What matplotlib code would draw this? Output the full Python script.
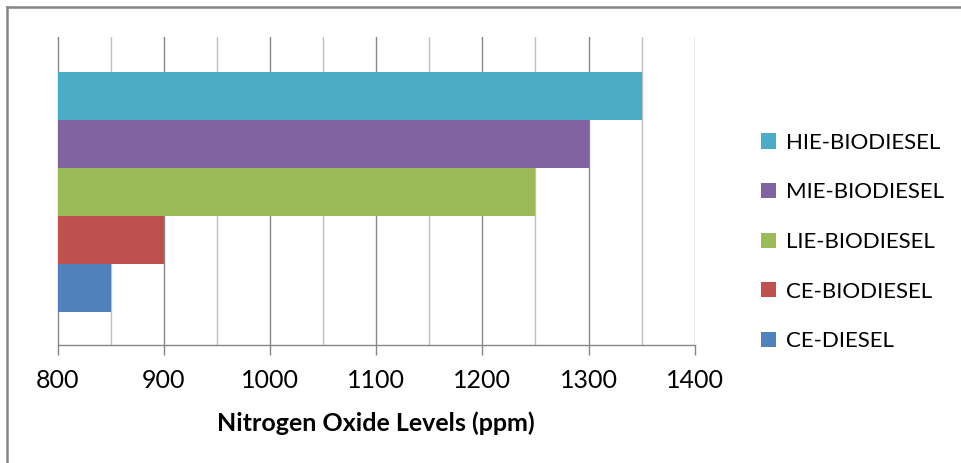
import matplotlib
matplotlib.use("Agg")
import matplotlib.pyplot as plt
from matplotlib.lines import Line2D
from matplotlib.patches import Patch
from matplotlib.ticker import MultipleLocator

# Series (bottom to top on the chart)
series = ["CE-DIESEL", "CE-BIODIESEL", "LIE-BIODIESEL", "MIE-BIODIESEL", "HIE-BIODIESEL"]
nox_ppm = [850, 900, 1250, 1300, 1350]
colors = ["#4F81BD", "#C0504D", "#9BBB59", "#8064A2", "#4BACC6"]
x_ticks = [800, 900, 1000, 1100, 1200, 1300, 1400]
x_label = "Nitrogen Oxide Levels (ppm)"

plt.rcParams["font.family"] = ["Lato", "DejaVu Sans"]

W, H = 962, 463
fig = plt.figure(figsize=(W / 100, H / 100), dpi=100)

# plot area in pixel terms
left_px, right_px, top_px, bottom_px = 57.5, 694.7, 37, 345
ax = fig.add_axes([left_px / W, 1 - bottom_px / H,
                   (right_px - left_px) / W, (bottom_px - top_px) / H])

ypos = list(range(len(series)))
for y, v, c, name in zip(ypos, nox_ppm, colors, series):
    ax.barh(y, v - x_ticks[0], left=x_ticks[0], height=1.0, color=c,
            label=name, zorder=3)

ax.set_xlim(x_ticks[0], x_ticks[-1])
ax.set_ylim(-1.19, 5.23)
ax.set_xticks(x_ticks)
ax.xaxis.set_minor_locator(MultipleLocator(50))
ax.set_yticks([])

ax.grid(which="major", axis="x", color="#868686", linewidth=1.0, zorder=1)
ax.grid(which="minor", axis="x", color="#C0C0C0", linewidth=1.0, zorder=1)
ax.set_axisbelow(True)

for s in ["top", "right", "left"]:
    ax.spines[s].set_visible(False)
ax.spines["bottom"].set_color("#868686")
ax.spines["bottom"].set_linewidth(1.0)
ax.spines["bottom"].set_zorder(4)

ax.tick_params(axis="x", which="major", direction="out", length=7, width=1.0,
               color="#868686", labelsize=18, pad=10, labelcolor="black")
ax.tick_params(axis="x", which="minor", length=0)

ax.set_xlabel(x_label, fontsize=18, fontweight="bold", labelpad=14)

# legend: top entry first
handles = [Patch(facecolor=c, edgecolor="none") for c in colors][::-1]
labels = series[::-1]
fig.legend(handles, labels, loc="upper left",
           bbox_to_anchor=(752 / W, 1 - 124 / H), frameon=False,
           fontsize=16, handlelength=0.68, handleheight=0.68,
           handletextpad=0.45, labelspacing=1.33, borderaxespad=0)

# outer chart frame (top and left edges)
fig.add_artist(Line2D([7 / W, 1], [1 - 7 / H, 1 - 7 / H], color="#868686",
                      linewidth=1.8, transform=fig.transFigure))
fig.add_artist(Line2D([7 / W, 7 / W], [1 - 7 / H, 0], color="#868686",
                      linewidth=1.8, transform=fig.transFigure))

fig.savefig("out.png", dpi=100)
